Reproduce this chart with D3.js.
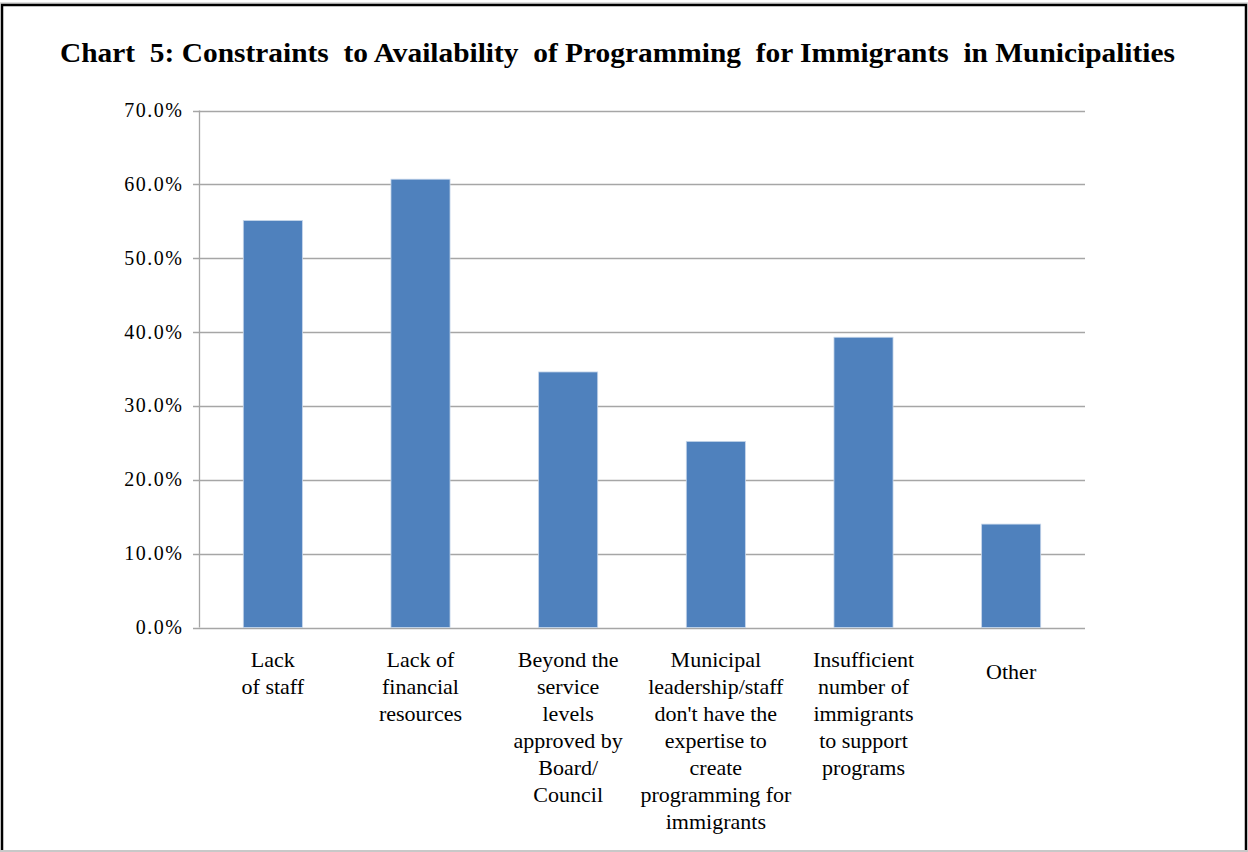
<!DOCTYPE html>
<html>
<head>
<meta charset="utf-8">
<script src="https://cdn.jsdelivr.net/npm/d3@7"></script>
<style>
  body { margin: 0; background: #fff; }
</style>
</head>
<body>
<div id="chart"></div>
<script>
const categories = [
  ["Lack", "of staff"],
  ["Lack of", "financial", "resources"],
  ["Beyond the", "service", "levels", "approved by", "Board/", "Council"],
  ["Municipal", "leadership/staff", "don't have the", "expertise to", "create", "programming for", "immigrants"],
  ["Insufficient", "number of", "immigrants", "to support", "programs"],
  ["Other"]
];
const values = [55.1, 60.7, 34.6, 25.2, 39.3, 14.0];
const yTicks = [0, 10, 20, 30, 40, 50, 60, 70];
const title = "Chart  5: Constraints  to Availability  of Programming  for Immigrants  in Municipalities";

const width = 1248, height = 852;
const plot = { left: 199, right: 1085, top: 110.5, bottom: 627.5 };
const serif = "'Liberation Serif', 'Times New Roman', Times, serif";

const svg = d3.select("#chart").append("svg")
  .attr("width", width)
  .attr("height", height);

// frame
svg.append("rect")
  .attr("x", 0).attr("y", 0).attr("width", width).attr("height", height)
  .attr("fill", "#fff");
svg.append("line")
  .attr("x1", 0).attr("x2", width).attr("y1", 3).attr("y2", 3)
  .attr("stroke", "#bbb").attr("stroke-width", 1);
svg.append("path")
  .attr("d", `M2,${height + 5} V5 H1246 V${height + 5}`)
  .attr("fill", "none").attr("stroke", "#000").attr("stroke-width", 2.5);
svg.append("line")
  .attr("x1", 0).attr("x2", width).attr("y1", 851).attr("y2", 851)
  .attr("stroke", "#c8c8c8").attr("stroke-width", 2);

svg.append("text")
  .attr("x", 60).attr("y", 62)
  .attr("font-family", serif)
  .attr("font-weight", "bold")
  .attr("font-size", 28)
  .attr("textLength", 1115)
  .attr("lengthAdjust", "spacingAndGlyphs")
  .attr("xml:space", "preserve")
  .text(title);

const x = d3.scaleBand()
  .domain(d3.range(categories.length))
  .range([plot.left, plot.right])
  .paddingInner(0.6)
  .paddingOuter(0.3);

const y = d3.scaleLinear()
  .domain([0, 70])
  .range([plot.bottom, plot.top]);

// gridlines
svg.append("g")
  .selectAll("line")
  .data(yTicks)
  .join("line")
  .attr("x1", plot.left - 6).attr("x2", plot.right)
  .attr("y1", d => Math.round(y(d)) + 0.5).attr("y2", d => Math.round(y(d)) + 0.5)
  .attr("stroke", "#a6a6a6").attr("stroke-width", 1.3);

// y axis line
svg.append("line")
  .attr("x1", plot.left + 0.5).attr("x2", plot.left + 0.5)
  .attr("y1", plot.top).attr("y2", plot.bottom)
  .attr("stroke", "#a6a6a6").attr("stroke-width", 1.3);

svg.append("g")
  .selectAll("text")
  .data(yTicks)
  .join("text")
  .attr("x", 183.5)
  .attr("y", d => y(d) + 6.5)
  .attr("text-anchor", "end")
  .attr("font-family", serif)
  .attr("font-size", 20)
  .attr("letter-spacing", 1.5)
  .text(d => d.toFixed(1) + "%");

// bars
svg.append("g")
  .selectAll("rect")
  .data(values)
  .join("rect")
  .attr("x", (d, i) => x(i))
  .attr("width", x.bandwidth())
  .attr("y", d => y(d))
  .attr("height", d => y(0) - y(d))
  .attr("fill", "#4f81bd")
  .attr("stroke", "#c6d6ea")
  .attr("stroke-width", 0.8);

// category labels
const labels = svg.append("g")
  .selectAll("text")
  .data(categories)
  .join("text")
  .attr("text-anchor", "middle")
  .attr("font-family", serif)
  .attr("font-size", 22)
  .attr("transform", (d, i) => `translate(${x(i) + x.bandwidth() / 2},${d.length === 1 ? 679 : 667})`);

labels.selectAll("tspan")
  .data(d => d)
  .join("tspan")
  .attr("x", 0)
  .attr("y", (d, i) => i * 27)
  .text(d => d);
</script>
</body>
</html>
